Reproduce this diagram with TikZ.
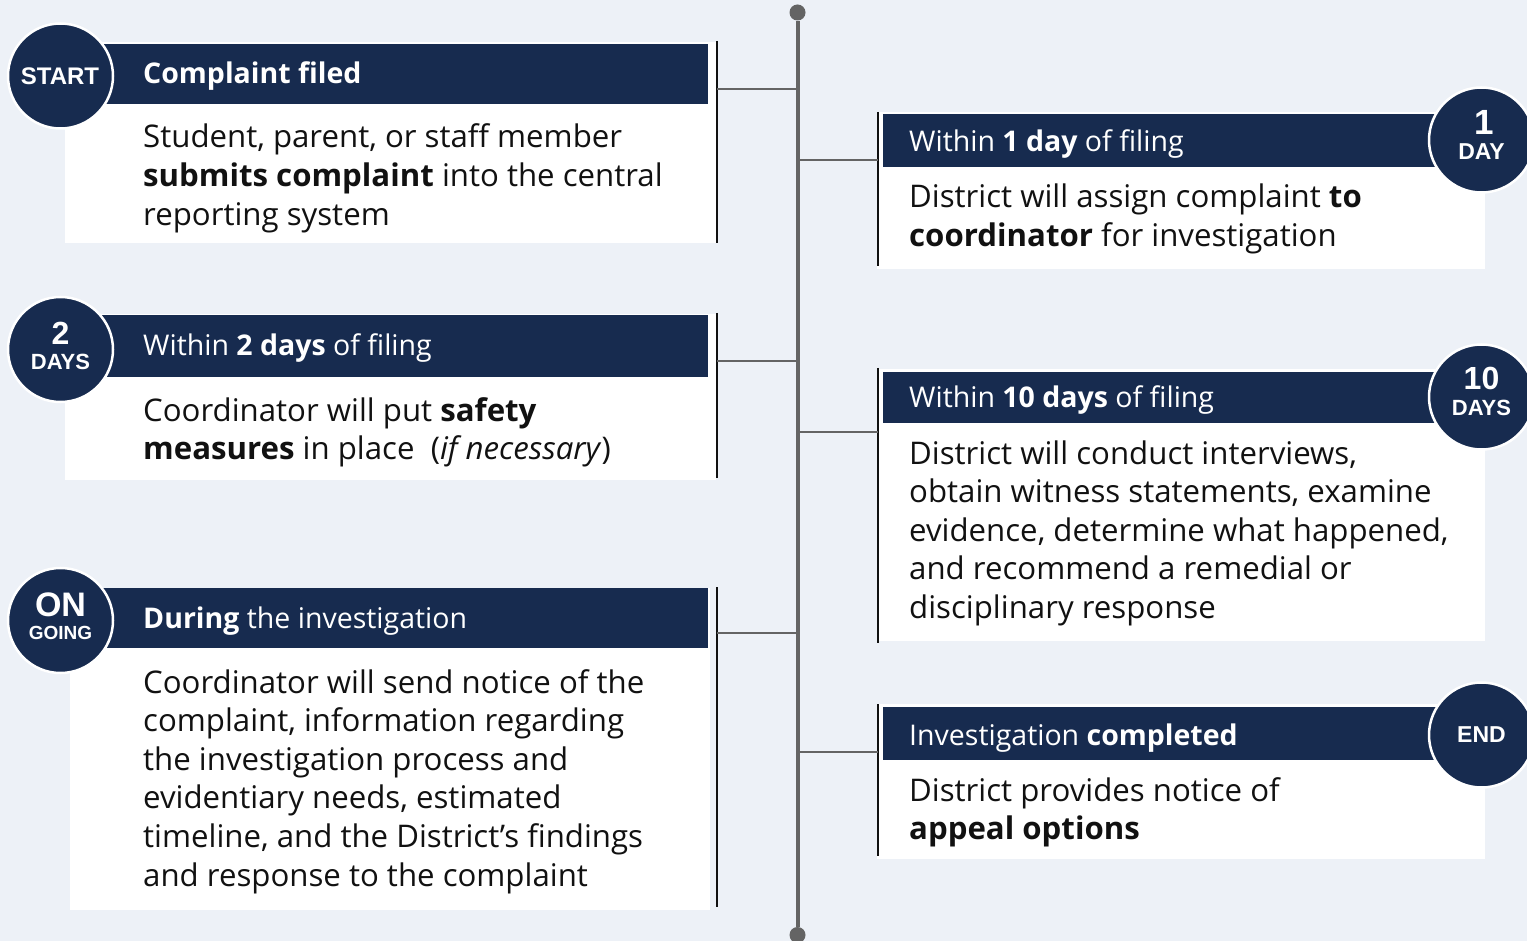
\documentclass[tikz,border=0pt]{standalone}
\usepackage{fontspec}
\setmainfont{Open Sans}
\newfontfamily\circfont{Liberation Sans}
\definecolor{navy}{HTML}{172B4F}
\definecolor{bgc}{HTML}{EDF1F7}
\definecolor{spinec}{HTML}{646464}
\definecolor{inkc}{HTML}{111111}
\newcommand{\hdfont}{\fontsize{28.5}{34}\selectfont}
\newcommand{\bdfont}{\fontsize{31.2}{38.6}\selectfont}
\newcommand{\bodytext}[1]{\parbox[t]{640pt}{\raggedright\bdfont #1}}
\tikzset{
  whitebox/.style={fill=white, draw=none, inner sep=0pt, anchor=north west},
  headbar/.style={fill=navy, draw=none, inner sep=0pt, anchor=north west},
  circ/.style={circle, fill=navy, draw=white, line width=2.5pt, minimum size=105pt, inner sep=0pt},
  circtxt/.style={text=white, inner sep=0pt, anchor=base, font=\circfont\bfseries},
  hdtxt/.style={text=white, inner sep=0pt, anchor=base west, font=\hdfont},
  bdtxt/.style={text=inkc, inner sep=0pt, anchor=base west},
  edge/.style={draw=inkc, line width=2pt},
  conn/.style={draw=spinec, line width=2.2pt},
  spine/.style={draw=spinec, line width=4pt},
  dot/.style={circle, fill=spinec, minimum size=16pt, inner sep=0pt}
}
\begin{document}
\begin{tikzpicture}[x=1pt,y=-1pt]
\useasboundingbox (0,0) rectangle (1527,941);
\clip (0,0) rectangle (1527,941);
\fill[bgc] (0,0) rectangle (1527,941);

% spine
\node[dot] (top) at (797.5,12.5) {};
\node[dot] (bot) at (797.5,935) {};
\draw[spine] (top) -- (bot);

% ---------- left box 1
\node[whitebox, minimum width=651pt, minimum height=201pt] (w1) at (65,42) {};
\node[headbar, minimum width=628pt, minimum height=60pt] (h1) at (80,44) {};
\coordinate (e1t) at (717,41); \coordinate (e1b) at (717,243);
\draw[edge] (e1t) -- (e1b);
\coordinate (e1) at (717,89); \coordinate (s1) at (797.5,89);
\draw[conn] (e1) -- (s1);
\node[circ] (c1) at (60.5,76) {};
\node[circtxt, font=\circfont\bfseries\fontsize{24}{24}\selectfont] (c1a) at (60,85) {START};
\node[hdtxt] (t1h) at (143,83.5) {\textbf{Complaint filed}};
\node[bdtxt] (t1b) at (143,148) {\bodytext{Student, parent, or staff member\\
\textbf{submits complaint} into the central\\
reporting system}};

% ---------- left box 2
\node[whitebox, minimum width=651pt, minimum height=166pt] (w2) at (65,314) {};
\node[headbar, minimum width=628pt, minimum height=62pt] (h2) at (80,315) {};
\coordinate (e2t) at (717,313); \coordinate (e2b) at (717,478);
\draw[edge] (e2t) -- (e2b);
\coordinate (e2) at (717,361); \coordinate (s2) at (797.5,361);
\draw[conn] (e2) -- (s2);
\node[circ] (c2) at (60.5,349.5) {};
\node[circtxt, font=\circfont\bfseries\fontsize{32}{32}\selectfont] (c2a) at (60.5,345) {2};
\node[circtxt, font=\circfont\bfseries\fontsize{22}{22}\selectfont] (c2b) at (60.5,370) {DAYS};
\node[hdtxt] (t2h) at (143,356) {Within \textbf{2 days} of filing};
\node[bdtxt] (t2b) at (143,421) {\bodytext{Coordinator will put \textbf{safety}\\
\textbf{measures} in place\ \ (\textit{if necessary})}};

% ---------- left box 3
\node[whitebox, minimum width=640pt, minimum height=322pt] (w3) at (70,588) {};
\node[headbar, minimum width=628pt, minimum height=60pt] (h3) at (80,588) {};
\coordinate (e3t) at (717,587); \coordinate (e3b) at (717,907);
\draw[edge] (e3t) -- (e3b);
\coordinate (e3) at (717,633); \coordinate (s3) at (797.5,633);
\draw[conn] (e3) -- (s3);
\node[circ] (c3) at (60.5,620.5) {};
\node[circtxt, font=\circfont\bfseries\fontsize{34}{34}\selectfont] (c3a) at (60.5,616.5) {ON};
\node[circtxt, font=\circfont\bfseries\fontsize{19}{19}\selectfont] (c3b) at (60.5,639) {GOING};
\node[hdtxt] (t3h) at (143,628) {\textbf{During} the investigation};
\node[bdtxt] (t3b) at (143,693) {\bodytext{Coordinator will send notice of the\\
complaint, information regarding\\
the investigation process and\\
evidentiary needs, estimated\\
timeline, and the District’s findings\\
and response to the complaint}};

% ---------- right box 1
\node[whitebox, minimum width=608pt, minimum height=157pt] (r1) at (877,112) {};
\node[headbar, minimum width=570pt, minimum height=53pt] (rh1) at (883,114) {};
\coordinate (f1t) at (878,112); \coordinate (f1b) at (878,266);
\draw[edge] (f1t) -- (f1b);
\coordinate (f1) at (878,160); \coordinate (q1) at (797.5,160);
\draw[conn] (q1) -- (f1);
\node[circ] (d1) at (1481.5,140) {};
\node[circtxt, font=\circfont\bfseries\fontsize{35}{35}\selectfont] (d1a) at (1484,135) {1};
\node[circtxt, font=\circfont\bfseries\fontsize{23}{23}\selectfont] (d1b) at (1481.5,160) {DAY};
\node[hdtxt] (u1h) at (909,152) {Within \textbf{1 day} of filing};
\node[bdtxt] (u1b) at (909,208) {\bodytext{District will assign complaint \textbf{to}\\
\textbf{coordinator} for investigation}};

% ---------- right box 2
\node[whitebox, minimum width=608pt, minimum height=272pt] (r2) at (877,369) {};
\node[headbar, minimum width=570pt, minimum height=51pt] (rh2) at (883,372) {};
\coordinate (f2t) at (878,368); \coordinate (f2b) at (878,643);
\draw[edge] (f2t) -- (f2b);
\coordinate (f2) at (878,432); \coordinate (q2) at (797.5,432);
\draw[conn] (q2) -- (f2);
\node[circ] (d2) at (1481.5,397) {};
\node[circtxt, font=\circfont\bfseries\fontsize{32}{32}\selectfont] (d2a) at (1481.5,390) {10};
\node[circtxt, font=\circfont\bfseries\fontsize{22}{22}\selectfont] (d2b) at (1481.5,415) {DAYS};
\node[hdtxt] (u2h) at (909,407) {Within \textbf{10 days} of filing};
\node[bdtxt] (u2b) at (909,464) {\bodytext{District will conduct interviews,\\
obtain witness statements, examine\\
evidence, determine what happened,\\
and recommend a remedial or\\
disciplinary response}};

% ---------- right box 3
\node[whitebox, minimum width=608pt, minimum height=155pt] (r3) at (877,704) {};
\node[headbar, minimum width=570pt, minimum height=53pt] (rh3) at (883,707) {};
\coordinate (f3t) at (878,704); \coordinate (f3b) at (878,856);
\draw[edge] (f3t) -- (f3b);
\coordinate (f3) at (878,752); \coordinate (q3) at (797.5,752);
\draw[conn] (q3) -- (f3);
\node[circ] (d3) at (1481.5,735) {};
\node[circtxt, font=\circfont\bfseries\fontsize{23}{23}\selectfont] (d3a) at (1481.5,742) {END};
\node[hdtxt] (u3h) at (909,745) {Investigation \textbf{completed}};
\node[bdtxt] (u3b) at (909,801) {\bodytext{District provides notice of\\
\textbf{appeal options}}};
\end{tikzpicture}
\end{document}
